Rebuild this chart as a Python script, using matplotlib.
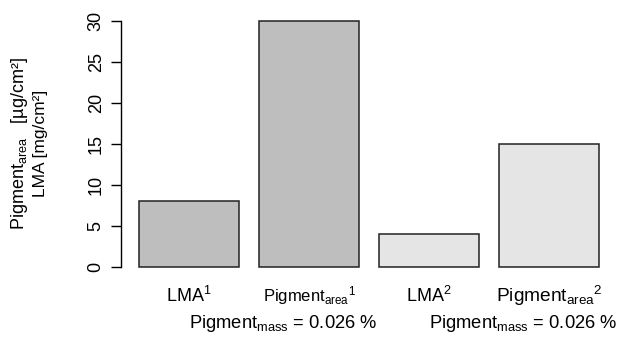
import matplotlib
matplotlib.use("Agg")
import matplotlib.pyplot as plt
from matplotlib.transforms import blended_transform_factory, offset_copy

plt.rcParams['font.family'] = ['Liberation Sans', 'DejaVu Sans']
plt.rcParams['mathtext.fontset'] = 'custom'
plt.rcParams['mathtext.rm'] = 'Liberation Sans'
plt.rcParams['mathtext.it'] = 'Liberation Sans:italic'
plt.rcParams['mathtext.bf'] = 'Liberation Sans:bold'

# Data
labels = [r'LMA$^{1}$', r'Pigment$_{\mathrm{area}}$$^{1}$', r'LMA$^{2}$', r'Pigment$_{\mathrm{area}}$$^{2}$']
values = [8, 30, 4, 15]
colors = ['#BEBEBE', '#BEBEBE', '#E5E5E5', '#E5E5E5']
label_sizes = [13, 12, 13, 13.8]
mass_labels = [r'Pigment$_{\mathrm{mass}}$ = 0.026 %', r'Pigment$_{\mathrm{mass}}$ = 0.026 %']
mass_bar_index = [0, 2]
yticks = [0, 5, 10, 15, 20, 25, 30]

W, H = 619, 342
fig = plt.figure(figsize=(W / 100, H / 100), dpi=100)
left, right, bottom, top = 120.6, 617.4, 276.8, 11.2
ax = fig.add_axes([left / W, 1 - bottom / H, (right - left) / W, (bottom - top) / H])

width = 1.0
space = 0.2
xs = [space + i * (width + space) + width / 2 for i in range(len(values))]
ax.bar(xs, values, width=width, color=colors, edgecolor='#222222', linewidth=1.1)

ax.set_xlim(0.016, 4.984)
ax.set_ylim(-1.2, 31.2)

for s in ['top', 'right', 'bottom']:
    ax.spines[s].set_visible(False)
ax.spines['left'].set_bounds(0, 30)
ax.spines['left'].set_linewidth(1.0)
ax.set_yticks(yticks)
ax.set_yticklabels([str(t) for t in yticks], rotation=90, va='center', fontsize=13)
ax.tick_params(axis='y', length=7.5, width=1.0, pad=4)
ax.set_xticks([])

tr = blended_transform_factory(ax.transData, ax.transAxes)
for x, lab, fs in zip(xs, labels, label_sizes):
    t = offset_copy(tr, fig=fig, x=0, y=-25, units='dots')
    ax.text(x, 0, lab, transform=t, ha='center', va='baseline', fontsize=fs)

for idx, lab in zip(mass_bar_index, mass_labels):
    t = offset_copy(tr, fig=fig, x=0, y=-51, units='dots')
    ax.text(xs[idx], 0, lab, transform=t, ha='left', va='baseline', fontsize=13.2)

fig.text(20 / W, 1 - 143 / H, r'Pigment$_{\mathrm{area}}$   [µg/cm²]', rotation=90,
         ha='center', va='center', fontsize=13)
fig.text(41 / W, 1 - 143 / H, 'LMA [mg/cm²]', rotation=90,
         ha='center', va='center', fontsize=12.5)

fig.savefig('out.png', dpi=100)
